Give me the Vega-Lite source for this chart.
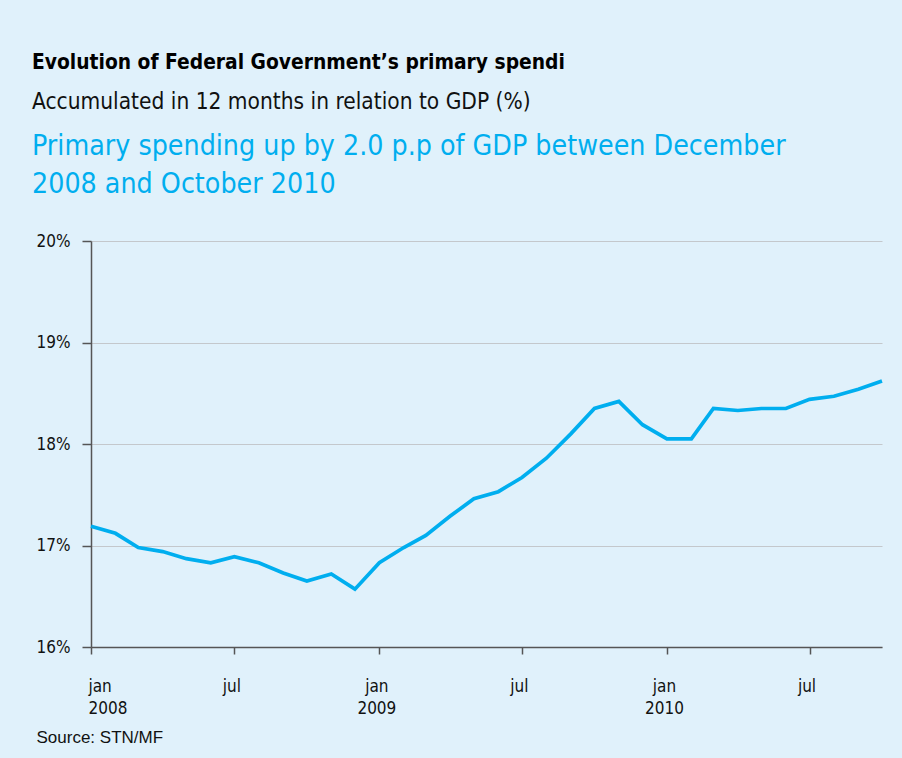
{
  "$schema": "https://vega.github.io/schema/vega-lite/v6.json",
  "background": "#e0f1fb",
  "padding": {"left": 32, "top": 52, "right": 21, "bottom": 16},
  "title": {
    "text": "Evolution of Federal Government’s primary spendi",
    "subtitle": "Accumulated in 12 months in relation to GDP (%)",
    "anchor": "start",
    "frame": "bounds",
    "dx": 0,
    "font": "DejaVu Sans Condensed",
    "fontSize": 20.8,
    "fontWeight": "bold",
    "color": "#000000",
    "subtitleFont": "DejaVu Sans Condensed",
    "subtitleFontSize": 22.5,
    "subtitleColor": "#111111",
    "subtitlePadding": 17,
    "offset": 17
  },
  "data": {
    "values": [
      {"date": "2008-01-01", "value": 17.19},
      {"date": "2008-02-01", "value": 17.12},
      {"date": "2008-03-01", "value": 16.98},
      {"date": "2008-04-01", "value": 16.94},
      {"date": "2008-05-01", "value": 16.87},
      {"date": "2008-06-01", "value": 16.83},
      {"date": "2008-07-01", "value": 16.89},
      {"date": "2008-08-01", "value": 16.83},
      {"date": "2008-09-01", "value": 16.73},
      {"date": "2008-10-01", "value": 16.65},
      {"date": "2008-11-01", "value": 16.72},
      {"date": "2008-12-01", "value": 16.57},
      {"date": "2009-01-01", "value": 16.83},
      {"date": "2009-02-01", "value": 16.98},
      {"date": "2009-03-01", "value": 17.10},
      {"date": "2009-04-01", "value": 17.29},
      {"date": "2009-05-01", "value": 17.46},
      {"date": "2009-06-01", "value": 17.53},
      {"date": "2009-07-01", "value": 17.67},
      {"date": "2009-08-01", "value": 17.86},
      {"date": "2009-09-01", "value": 18.10},
      {"date": "2009-10-01", "value": 18.35},
      {"date": "2009-11-01", "value": 18.42},
      {"date": "2009-12-01", "value": 18.19},
      {"date": "2010-01-01", "value": 18.05},
      {"date": "2010-02-01", "value": 18.05},
      {"date": "2010-03-01", "value": 18.35},
      {"date": "2010-04-01", "value": 18.33},
      {"date": "2010-05-01", "value": 18.35},
      {"date": "2010-06-01", "value": 18.35},
      {"date": "2010-07-01", "value": 18.44},
      {"date": "2010-08-01", "value": 18.47},
      {"date": "2010-09-01", "value": 18.54},
      {"date": "2010-10-01", "value": 18.62}
    ]
  },
  "vconcat": [
    {
      "width": 791,
      "height": 406,
      "title": {
        "text": ["Primary spending up by 2.0 p.p of GDP between December", "2008 and October 2010"],
        "anchor": "start",
        "frame": "bounds",
        "dx": -4,
        "font": "DejaVu Sans Condensed",
        "fontSize": 28.3,
        "fontWeight": "normal",
        "color": "#00aeef",
        "lineHeight": 38,
        "offset": 33
      },
      "mark": {"type": "line", "color": "#00aeef", "strokeWidth": 3.7, "strokeJoin": "miter"},
      "encoding": {
        "x": {
          "field": "date",
          "type": "temporal",
          "scale": {"type": "utc", "domain": [{"year": 2008, "month": 1, "date": 1, "utc": true}, {"year": 2010, "month": 10, "date": 1, "utc": true}]},
          "axis": {
            "values": [
              {"year": 2008, "month": 1, "date": 1, "utc": true},
              {"year": 2008, "month": 7, "date": 1, "utc": true},
              {"year": 2009, "month": 1, "date": 1, "utc": true},
              {"year": 2009, "month": 7, "date": 1, "utc": true},
              {"year": 2010, "month": 1, "date": 1, "utc": true},
              {"year": 2010, "month": 7, "date": 1, "utc": true}
            ],
            "labelExpr": "utcFormat(datum.value, '%m') == '01' ? ['jan', utcFormat(datum.value, '%Y')] : 'jul'",
            "labelFont": "DejaVu Sans Condensed",
            "labelFontSize": 17,
            "labelColor": "#111111",
            "labelLineHeight": 22,
            "labelFlush": true,
            "labelOffset": -3,
            "labelPadding": 24,
            "labelBaseline": "top",
            "grid": false,
            "domainColor": "#555555",
            "domainWidth": 1.5,
            "tickColor": "#555555",
            "tickWidth": 1.5,
            "tickSize": 7,
            "title": "Source: STN/MF",
            "titleFont": "Liberation Sans",
            "titleFontSize": 17,
            "titleFontWeight": "normal",
            "titleColor": "#111111",
            "titleAnchor": "start",
            "titleAlign": "left",
            "titleBaseline": "alphabetic",
            "titleX": -55,
            "titleY": 95
          }
        },
        "y": {
          "field": "value",
          "type": "quantitative",
          "scale": {"domain": [16, 20], "nice": false, "zero": false},
          "axis": {
            "values": [16, 17, 18, 19, 20],
            "labelExpr": "datum.value + '%'",
            "labelFont": "DejaVu Sans Condensed",
            "labelFontSize": 17,
            "labelColor": "#111111",
            "labelPadding": 12,
            "tickSize": 9,
            "tickColor": "#555555",
            "tickWidth": 1.5,
            "domainColor": "#555555",
            "domainWidth": 1.5,
            "gridColor": "#c4c8cc",
            "gridWidth": 1,
            "title": null
          }
        }
      }
    }
  ],
  "config": {"view": {"stroke": null}}
}
